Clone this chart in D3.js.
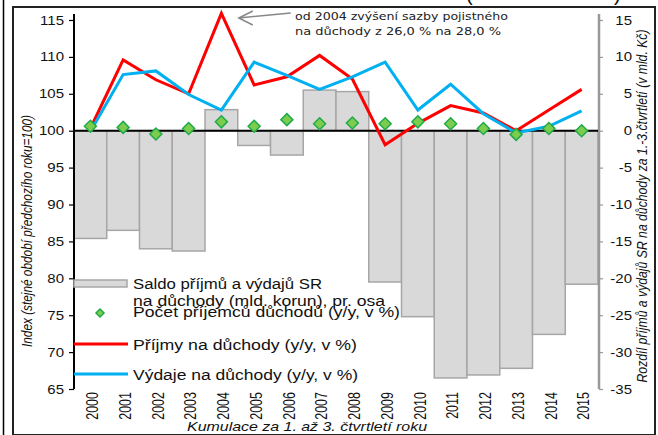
<!DOCTYPE html>
<html>
<head>
<meta charset="utf-8">
<script src="https://cdn.jsdelivr.net/npm/d3@7"></script>
<style>
  body { margin: 0; background: #fff; }
  svg { display: block; font-family: "Liberation Sans", Arial, sans-serif; }
</style>
</head>
<body>
<div id="chart"></div>
<script>
// data
const years = ['2000','2001','2002','2003','2004','2005','2006','2007','2008','2009','2010','2011','2012','2013','2014','2015']
const saldo = [-14.6, -13.5, -16.0, -16.3, 2.85, -2.0, -3.3, 5.5, 5.3, -20.5, -25.2, -33.5, -33.1, -32.2, -27.6, -20.8]
const prijmy = [100.3, 109.6, 106.9, 105.0, 115.9, 106.2, 107.3, 110.2, 107.0, 98.1, 101.0, 103.4, 102.4, 100.0, 102.8, 105.6]
const vydaje = [99.9, 107.6, 108.1, 104.9, 102.8, 109.3, 107.5, 105.6, 107.3, 109.3, 102.8, 106.3, 102.3, 99.7, 100.6, 102.7]
const pocet = [100.6, 100.45, 99.55, 100.3, 101.2, 100.6, 101.5, 100.95, 101.05, 100.95, 101.2, 100.95, 100.3, 99.5, 100.3, 100.0]
const leftTicks = [65, 70, 75, 80, 85, 90, 95, 100, 105, 110, 115]
const rightTicks = [-35, -30, -25, -20, -15, -10, -5, 0, 5, 10, 15]
const legendLabels = [
  ['Saldo příjmů a výdajů SR', 'na důchody (mld. korun), pr. osa'],
  ['Počet příjemců důchodů (y/y, v %)'],
  ['Příjmy na důchody (y/y, v %)'],
  ['Výdaje na důchody (y/y, v %)']
]
const note = ['od 2004 zvýšení sazby pojistného', 'na důchody z 26,0 % na 28,0 %']
const leftTitle = 'Index (stejné období předchozího roku=100)'
const rightTitle = 'Rozdíl příjmů a výdajů SR na důchody za 1.-3.čtvrtletí (v mld. Kč)'
const xTitle = 'Kumulace za 1. až 3. čtvrtletí roku'

const W = 658, H = 435
const SX = 1.2   // picture is a bit wider than tall, text too

let svg = d3.select('#chart').append('svg')
  .attr('width', W)
  .attr('height', H)

let x = d3.scaleBand().domain(years).range([74, 598]).padding(0)
let yL = d3.scaleLinear().domain([65, 115]).range([389, 20])
let yR = d3.scaleLinear().domain([-35, 15]).range([389, 20])

function sText(parent, px, py, str, size, opts) {
  opts = opts || {}
  let t = parent.append('text')
    .attr('transform', `translate(${px},${py}) scale(${opts.sx || SX},1)` + (opts.rot ? ` rotate(${opts.rot})` : ''))
    .attr('font-size', size)
    .attr('fill', opts.fill || '#111')
    .attr('text-anchor', opts.anchor || 'start')
    .text(str)
  if (opts.italic) t.attr('font-style', 'italic')
  if (opts.family) t.attr('font-family', opts.family)
  if (opts.len) t.attr('textLength', opts.len / (opts.rot ? 1 : (opts.sx || SX))).attr('lengthAdjust', 'spacingAndGlyphs')
  return t
}

// frame lines
svg.append('line').attr('x1', 3.5).attr('x2', 3.5).attr('y1', 0).attr('y2', H)
  .attr('stroke', '#000').attr('stroke-width', 1.5)
svg.append('rect').attr('x', 13).attr('y', 7).attr('width', 642).attr('height', 428)
  .attr('fill', 'none').attr('stroke', '#222').attr('stroke-width', 2)
// cut-off title above the frame
sText(svg, 466, 1, '(', 20, { sx: 1 })
sText(svg, 614, 1, ')', 20, { sx: 1 })

// bars (right axis)
svg.selectAll('rect.bar')
  .data(saldo)
  .enter()
  .append('rect')
  .attr('class', 'bar')
  .attr('x', (d, i) => x(years[i]))
  .attr('y', d => yR(Math.max(0, d)))
  .attr('width', x.bandwidth())
  .attr('height', d => Math.abs(yR(d) - yR(0)))
  .attr('fill', '#d9d9d9')
  .attr('stroke', '#a6a6a6')
  .attr('stroke-width', 1.5)

// left axis
let gL = svg.append('g')
  .attr('transform', 'translate(74,0)')
  .call(d3.axisLeft(yL).tickValues(leftTicks).tickSize(5).tickFormat(d => d))
gL.select('.domain').remove()
gL.selectAll('line').attr('stroke', '#000').attr('stroke-width', 1.2)
gL.selectAll('text')
  .attr('x', 0)
  .attr('font-size', 12.5)
  .attr('fill', '#111')
  .attr('font-family', '"Liberation Sans", Arial, sans-serif')
  .attr('transform', `translate(-10,0) scale(${SX},1)`)
svg.append('line').attr('x1', 74).attr('x2', 74).attr('y1', 14).attr('y2', yL(65))
  .attr('stroke', '#000').attr('stroke-width', 2)

// right axis
let gR = svg.append('g')
  .attr('transform', 'translate(599,0)')
  .call(d3.axisRight(yR).tickValues(rightTicks).tickSize(4).tickFormat(d => String(d)))
gR.select('.domain').remove()
gR.selectAll('line').attr('stroke', '#999').attr('stroke-width', 1.2)
gR.selectAll('text')
  .attr('x', 0)
  .attr('text-anchor', 'end')
  .attr('font-size', 12.5)
  .attr('fill', '#111')
  .attr('font-family', '"Liberation Sans", Arial, sans-serif')
  .attr('transform', `translate(33,0) scale(${SX},1)`)
svg.append('line').attr('x1', 599).attr('x2', 599).attr('y1', 14).attr('y2', yR(-35))
  .attr('stroke', '#999').attr('stroke-width', 2.5)

// year labels
let gX = svg.append('g')
  .attr('transform', `translate(0,${yL(65)})`)
  .call(d3.axisBottom(x).tickSize(0))
gX.select('.domain').remove()
gX.selectAll('text')
  .attr('x', 0)
  .attr('y', 0)
  .attr('dy', '0.35em')
  .attr('text-anchor', 'end')
  .attr('font-size', 12.5)
  .attr('fill', '#111')
  .attr('font-family', '"Liberation Sans", Arial, sans-serif')
  .attr('transform', `translate(2,3) scale(1.3,1) rotate(-90)`)

// zero line
svg.append('line')
  .attr('x1', 74).attr('x2', 598)
  .attr('y1', yL(100)).attr('y2', yL(100))
  .attr('stroke', '#000').attr('stroke-width', 2)

// lines
let cx = i => x(years[i]) + x.bandwidth() / 2
let line = d3.line().x((d, i) => cx(i)).y(d => yL(d))
svg.append('path').datum(prijmy).attr('d', line)
  .attr('fill', 'none').attr('stroke', '#ff0000').attr('stroke-width', 3)
svg.append('path').datum(vydaje).attr('d', line)
  .attr('fill', 'none').attr('stroke', '#00b0f0').attr('stroke-width', 3)

// diamonds
let diamond = r => `M0,${-r}L${r},0L0,${r}L${-r},0Z`
svg.selectAll('path.dot')
  .data(pocet)
  .enter()
  .append('path')
  .attr('class', 'dot')
  .attr('d', diamond(6))
  .attr('transform', (d, i) => `translate(${cx(i)},${yL(d)})`)
  .attr('fill', '#7ccc4e')
  .attr('stroke', '#1faa4a')
  .attr('stroke-width', 1.5)

// legend
let lg = svg.append('g')
lg.append('rect').attr('x', 74).attr('y', 280).attr('width', 53).attr('height', 7)
  .attr('fill', '#d9d9d9').attr('stroke', '#a6a6a6').attr('stroke-width', 1.5)
lg.append('path').attr('d', diamond(4)).attr('transform', 'translate(100,313)')
  .attr('fill', '#7ccc4e').attr('stroke', '#1faa4a').attr('stroke-width', 1.5)
lg.append('line').attr('x1', 74).attr('x2', 128).attr('y1', 344).attr('y2', 344)
  .attr('stroke', '#ff0000').attr('stroke-width', 3)
lg.append('line').attr('x1', 74).attr('x2', 128).attr('y1', 374).attr('y2', 374)
  .attr('stroke', '#00b0f0').attr('stroke-width', 3)
sText(lg, 133, 289, legendLabels[0][0], 15, { len: 189 })
sText(lg, 133, 306, legendLabels[0][1], 15, { len: 252 })
sText(lg, 133, 317, legendLabels[1][0], 15, { len: 267 })
sText(lg, 133, 350, legendLabels[2][0], 15, { len: 224 })
sText(lg, 133, 380, legendLabels[3][0], 15, { len: 225 })

// axis titles
sText(svg, 32, 231, leftTitle, 11.5, { rot: -90, anchor: 'middle', italic: true, len: 232 })
sText(svg, 647, 206, rightTitle, 12, { rot: -90, anchor: 'middle', italic: true, len: 353 })
sText(svg, 307, 431, xTitle, 13, { anchor: 'middle', italic: true, len: 240 })

// annotation with arrow
let tip = [x('2004') + x.bandwidth() + 1, 18]
svg.append('path')
  .attr('d', `M${tip[0] + 52},13L${tip[0]},${tip[1]}M${tip[0] + 14},11L${tip[0]},${tip[1]}L${tip[0] + 14},25`)
  .attr('fill', 'none').attr('stroke', '#888').attr('stroke-width', 1.5)
sText(svg, 295, 20, note[0], 11, { family: '"DejaVu Sans", Verdana, sans-serif', len: 213, fill: '#222' })
sText(svg, 295, 35, note[1], 11, { family: '"DejaVu Sans", Verdana, sans-serif', len: 206, fill: '#222' })
</script>
</body>
</html>
